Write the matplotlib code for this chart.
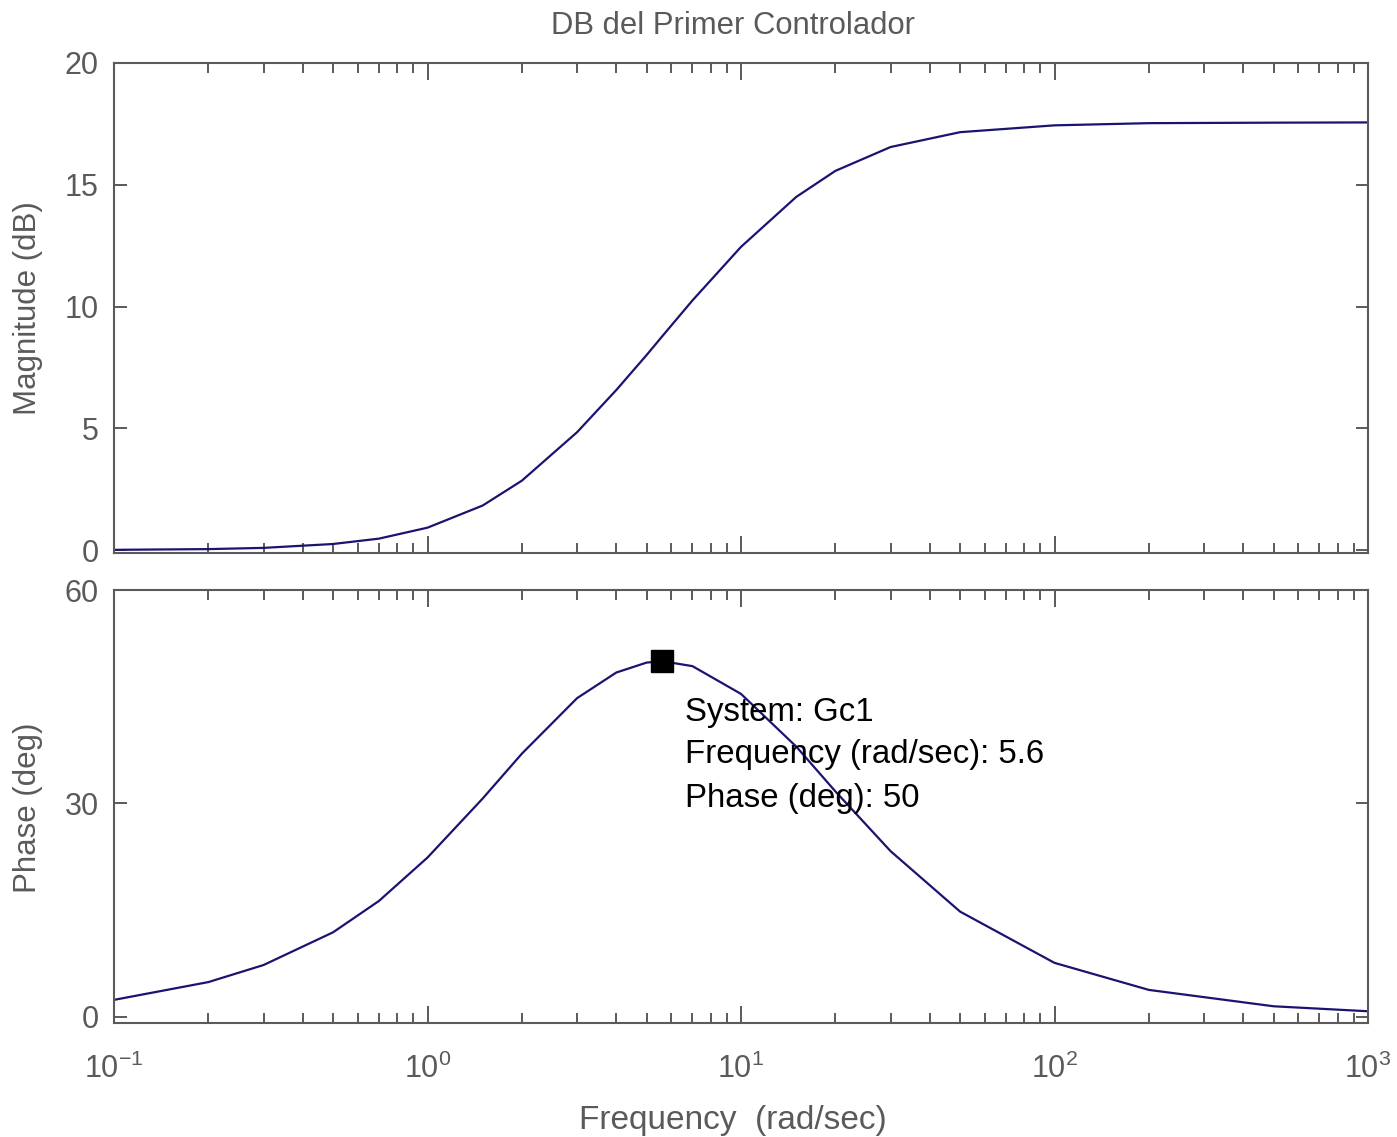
import matplotlib.pyplot as plt
from matplotlib.ticker import LogLocator, NullFormatter, FixedLocator

plt.rcParams['font.family'] = ['Liberation Sans', 'DejaVu Sans']
plt.rcParams['mathtext.fontset'] = 'custom'
plt.rcParams['mathtext.rm'] = 'Liberation Sans'
plt.rcParams['mathtext.it'] = 'Liberation Sans'
plt.rcParams['mathtext.bf'] = 'Liberation Sans'

# values
freq = [0.1, 0.2, 0.3, 0.5, 0.7, 1.0, 1.5, 2.0, 3.0, 4.0, 5.0, 5.6, 7.0,
        10, 15, 20, 30, 50, 100, 200, 500, 1000]
mag_db = [0.01, 0.04, 0.09, 0.25, 0.47, 0.92, 1.83, 2.85, 4.84, 6.57, 8.01,
          8.77, 10.25, 12.45, 14.5, 15.57, 16.55, 17.16, 17.44, 17.53,
          17.55, 17.56]
phase_deg = [2.4, 4.9, 7.3, 11.9, 16.3, 22.4, 30.7, 37.0, 44.8, 48.4, 49.8,
             50.0, 49.3, 45.4, 38.0, 31.7, 23.3, 14.8, 7.6, 3.8, 1.5, 0.8]
mag_ticks = [0, 5, 10, 15, 20]
phase_ticks = [0, 30, 60]
peak_w, peak_ph = 5.6, 50

W, H = 1397, 1137
gray = '#5a5a5a'
line_c = '#1a1470'

fig = plt.figure(figsize=(W / 100, H / 100), dpi=100)
ax1 = fig.add_axes([114 / W, 1 - 553 / H, 1254 / W, 490 / H])
ax2 = fig.add_axes([114 / W, 1 - 1023 / H, 1254 / W, 433 / H])

ax1.plot(freq, mag_db, color=line_c, lw=1.6)
ax2.plot(freq, phase_deg, color=line_c, lw=1.6)
ax2.plot([peak_w], [peak_ph], 's', color='black', ms=16)

for ax in (ax1, ax2):
    ax.set_xscale('log')
    ax.set_xlim(0.1, 1000)
    ax.xaxis.set_major_locator(LogLocator(base=10, numticks=10))
    ax.xaxis.set_minor_locator(LogLocator(base=10, subs=range(2, 10), numticks=50))
    ax.xaxis.set_minor_formatter(NullFormatter())
    ax.tick_params(which='both', direction='in', top=True, right=True,
                   colors=gray, labelcolor=gray, labelsize=22, width=1.4)
    ax.tick_params(which='major', axis='x', length=12, pad=22)
    ax.tick_params(which='minor', axis='x', length=7)
    ax.tick_params(which='major', axis='y', length=9, pad=11)
    for s in ax.spines.values():
        s.set_color(gray)
        s.set_linewidth(1.5)

ax1.set_ylim(-0.12, 20)
ax1.yaxis.set_major_locator(FixedLocator(mag_ticks))
ax1.set_xticklabels([])
ax1.xaxis.set_major_formatter(NullFormatter())

ax2.set_ylim(-0.85, 60)
ax2.yaxis.set_major_locator(FixedLocator(phase_ticks))
ax2.set_xticks([0.1, 1, 10, 100, 1000])
ax2.set_xticklabels([r'$10^{-1}$', r'$10^{0}$', r'$10^{1}$', r'$10^{2}$', r'$10^{3}$'])

fig.text(733 / W, 1 - 26 / H, 'DB del Primer Controlador', ha='center', va='center',
         fontsize=22.3, color=gray)
fig.text(733 / W, 1 - 1120 / H, 'Frequency  (rad/sec)', ha='center', va='center',
         fontsize=24, color=gray)
fig.text(28 / W, 1 - 308 / H, 'Magnitude (dB)', ha='center', va='center',
         rotation=90, fontsize=22.5, color=gray)
fig.text(28 / W, 1 - 808 / H, 'Phase (deg)', ha='center', va='center',
         rotation=90, fontsize=22.5, color=gray)

ax2.text((685 - 114) / 1254, (1023 - 755) / 433,
         'System: Gc1\nFrequency (rad/sec): 5.6\nPhase (deg): 50',
         transform=ax2.transAxes, ha='left', va='center', fontsize=23.8,
         color='black', linespacing=1.5)

fig.savefig('out.png', dpi=100)
